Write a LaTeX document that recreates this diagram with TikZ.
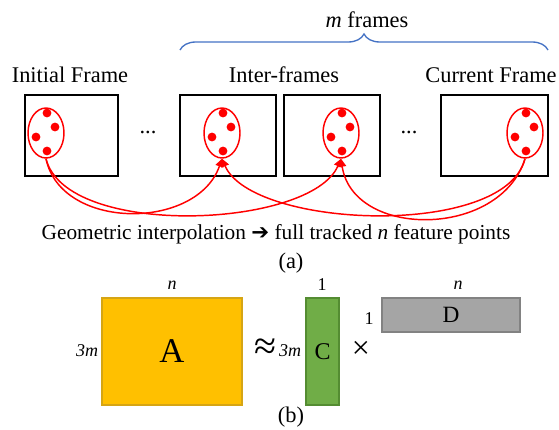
\documentclass[tikz,border=0pt]{standalone}
\usepackage{fontspec}
\setmainfont{Liberation Serif}
\newfontfamily\symfont{DejaVu Sans}
\usetikzlibrary{shapes.geometric,arrows.meta,decorations.pathreplacing,calc}

\definecolor{ptred}{RGB}{255,0,0}
\definecolor{braceblue}{RGB}{68,114,196}
\definecolor{mataFill}{RGB}{255,192,0}
\definecolor{mataLine}{RGB}{214,165,20}
\definecolor{matcFill}{RGB}{112,173,71}
\definecolor{matcLine}{RGB}{84,140,50}
\definecolor{matdFill}{RGB}{165,165,165}
\definecolor{matdLine}{RGB}{130,130,130}

\tikzset{
  txt/.style={inner sep=0.75pt, font=\fontsize{16.8}{19}\selectfont},
  dim/.style={inner sep=0.75pt, font=\fontsize{13.5}{15}\selectfont},
  frame/.style={draw=black, line width=1.1pt, minimum height=60.75pt, inner sep=0pt},
  blob/.style={ellipse, draw=ptred, line width=1.1pt, minimum width=27pt, minimum height=37.5pt, inner sep=0pt},
  link/.style={draw=ptred, line width=1.1pt, -{Triangle[width=6pt,length=6pt]}},
  mat/.style={line width=0.9pt, inner sep=0pt}
}

\begin{document}
\begin{tikzpicture}[x=0.75pt,y=0.75pt,yscale=-1,xscale=1]
\useasboundingbox (0,0) rectangle (559,429);
% brace over the m frames
\draw [braceblue, line width=1pt, decorate, decoration={brace, amplitude=12pt}] (180,50) -- (548,50);
\node [txt] (mfr) at (367,20) {\textit{m} frames};
% Frames
\node [txt] (lini) at (70,75) {Initial Frame};
\node [txt] (lint) at (284,75) {Inter-frames};
\node [txt] (lcur) at (491,75) {Current Frame};
\node [frame, minimum width=69.75pt] (f1) at (71.5,135.5) {};
\node [frame, minimum width=72pt] (f2) at (228,135.5) {};
\node [frame, minimum width=72pt] (f3) at (332,135.5) {};
\node [frame, minimum width=80.25pt] (f4) at (494.5,135.5) {};
\node [txt] (dd1) at (148,132) {...};
\node [txt] (dd2) at (409,132) {...};
% feature points
\node [blob] (e1) at (46,133) {};
\node [blob] (e2) at (222,133) {};
\node [blob] (e3) at (341,133) {};
\node [blob] (e4) at (525,133) {};
\foreach \e in {e1,e2,e3,e4} {
  \fill [ptred] ($(\e)+(1,-20)$) circle [radius=4.4];
  \fill [ptred] ($(\e)+(9,-6)$) circle [radius=4.4];
  \fill [ptred] ($(\e)+(-10,4)$) circle [radius=4.4];
  \fill [ptred] ($(\e)+(1,18)$) circle [radius=4.4];
}
% interpolation curves
\draw [link] (e1.south) .. controls +(15,72) and +(-25,72) .. (e2.south);
\draw [link] (e1.south) .. controls +(20,80) and +(-30,70) .. (e3.south);
\draw [link] (e4.south) .. controls +(-20,80) and +(30,70) .. (e2.south);
\draw [link] (e4.south) .. controls +(-25,80) and +(12,80) .. (e3.south);
% Text Node
\node [txt, font=\fontsize{16}{19}\selectfont] (cap) at (276,234) {Geometric interpolation {\symfont\bfseries ➔} full tracked \textit{n} feature points};
\node [txt] (capa) at (291,263) {(a)};
% Matrices
\node [mat, draw=mataLine, fill=mataFill, minimum width=105pt, minimum height=80.25pt, font=\fontsize{26}{28}\selectfont] (A) at (172,351.5) {A};
\node [mat, draw=matcLine, fill=matcFill, minimum width=24.75pt, minimum height=80.25pt, font=\fontsize{18}{20}\selectfont] (C) at (322.5,351.5) {C};
\node [mat, draw=matdLine, fill=matdFill, minimum width=103.5pt, minimum height=25.5pt, font=\fontsize{17.5}{20}\selectfont] (D) at (451,315) {D};
\node [dim] (an) at (172,285) {\textit{n}};
\node [dim] (am) at (87,351) {\textit{3m}};
\node [txt, font=\fontsize{30}{32}\selectfont] (approx) at (265,349) {≈};
\node [dim] (cm) at (290,351) {\textit{3m}};
\node [dim] (c1) at (322,285) {1};
\node [txt, font=\fontsize{24}{26}\selectfont] (times) at (361,350) {×};
\node [dim] (d1) at (369,319) {1};
\node [dim] (dn) at (458,285) {\textit{n}};
\node [txt] (capb) at (291,417) {(b)};
\end{tikzpicture}
\end{document}
